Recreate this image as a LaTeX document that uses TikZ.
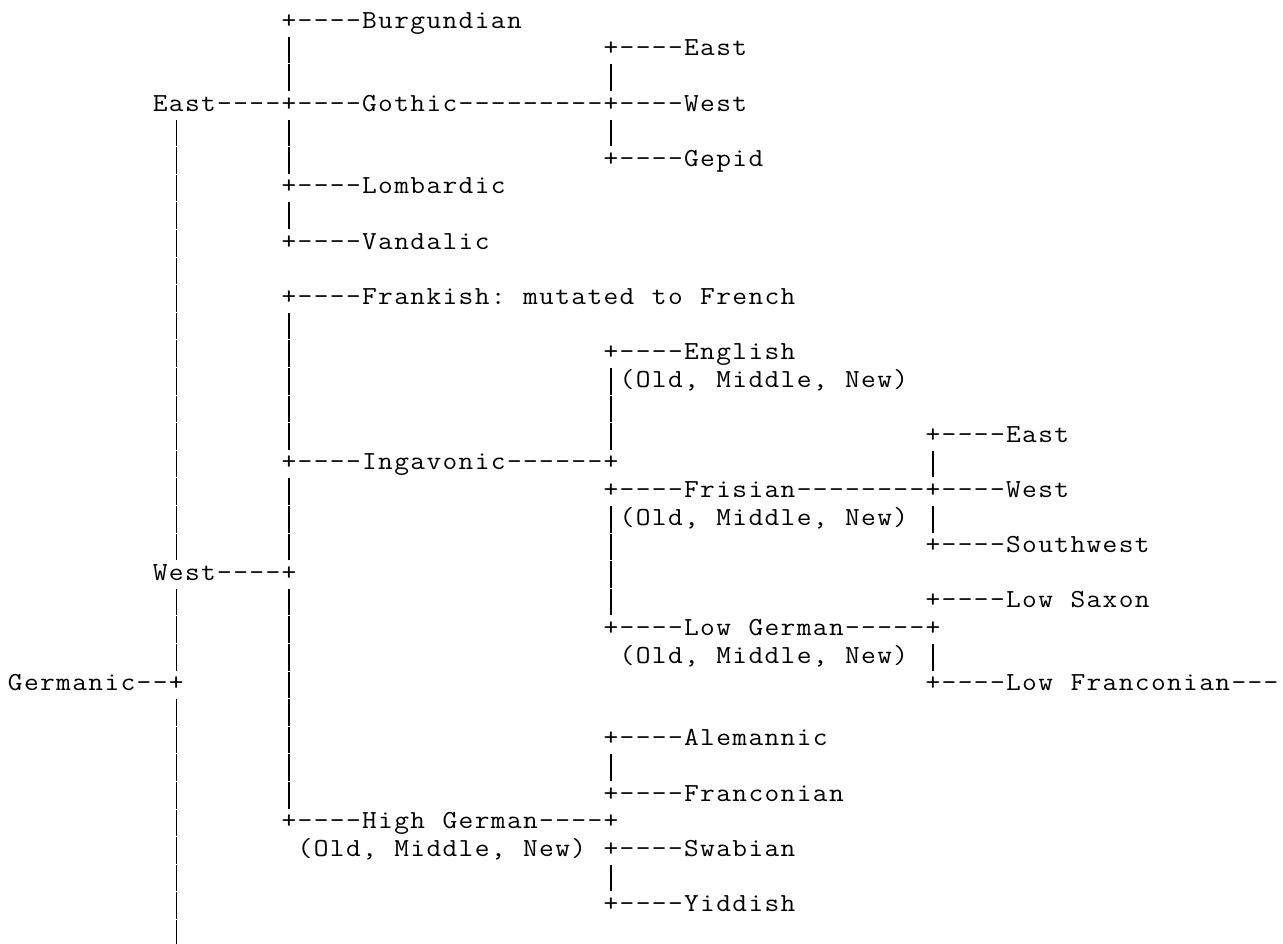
\documentclass[tikz,border=0pt]{standalone}
\usepackage{graphicx}
\newlength\cw
\setlength\cw{16.1pt}
\makeatletter
\def\grid@end{grid-end-marker}
\newcommand\gridtext[1]{\grid@a#1\grid@end}
\def\grid@a#1{\ifx#1\grid@end\else\grid@cell#1\expandafter\grid@a\fi}
\def\grid@cell#1{\ifx#1|\gridbar\else\ifx#1~\hbox to\cw{}\else\hbox to\cw{\hss\scalebox{1.1}[1]{#1}\hss}\fi\fi}
\newcommand\gridbar{\hbox to\cw{\hss\rule[-7.4pt]{1.1pt}{26.6pt}\hss}}
\makeatother
\newcommand\seg[4]{\node[seg] (#1) at (#2,#3) {\gridtext{#4}};}
\begin{document}
\begin{tikzpicture}[seg/.style={anchor=base west, inner sep=0pt, outer sep=0pt, font=\ttfamily\fontsize{26pt}{27.6pt}\selectfont}]
\fill[white] (0,0) rectangle (1283pt,-943pt);
\useasboundingbox (0,0) rectangle (1283pt,-943pt);
\begin{scope}[x=16.1pt, y=-27.6pt, shift={(7.25pt,-28.3pt)}]
% row 0
\seg{burgundian}{17}{0}{+----Burgundian}
% row 1
\seg{b1b}{17}{1}{|}
\seg{eastG}{37}{1}{+----East}
% row 2
\seg{b2b}{17}{2}{|}
\seg{b2c}{37}{2}{|}
% row 3
\seg{east}{9}{3}{East----+----Gothic---------+----West}
% row 4
\seg{b4a}{10}{4}{|}
\seg{b4b}{17}{4}{|}
\seg{b4c}{37}{4}{|}
% row 5
\seg{b5a}{10}{5}{|}
\seg{b5b}{17}{5}{|}
\seg{gepid}{37}{5}{+----Gepid}
% row 6
\seg{b6a}{10}{6}{|}
\seg{lombardic}{17}{6}{+----Lombardic}
% row 7
\seg{b7a}{10}{7}{|}
\seg{b7b}{17}{7}{|}
% row 8
\seg{b8a}{10}{8}{|}
\seg{vandalic}{17}{8}{+----Vandalic}
% row 9
\seg{b9a}{10}{9}{|}
% row 10
\seg{b10a}{10}{10}{|}
\seg{frankish}{17}{10}{+----Frankish:~mutated~to~French}
% row 11
\seg{b11a}{10}{11}{|}
\seg{b11b}{17}{11}{|}
% row 12
\seg{b12a}{10}{12}{|}
\seg{b12b}{17}{12}{|}
\seg{english}{37}{12}{+----English}
% row 13
\seg{b13a}{10}{13}{|}
\seg{b13b}{17}{13}{|}
\seg{englishOMN}{37}{13}{|(Old,~Middle,~New)}
% row 14
\seg{b14a}{10}{14}{|}
\seg{b14b}{17}{14}{|}
\seg{b14c}{37}{14}{|}
% row 15
\seg{b15a}{10}{15}{|}
\seg{b15b}{17}{15}{|}
\seg{b15c}{37}{15}{|}
\seg{eastF}{57}{15}{+----East}
% row 16
\seg{b16a}{10}{16}{|}
\seg{ingavonic}{17}{16}{+----Ingavonic------+}
\seg{b16d}{57}{16}{|}
% row 17
\seg{b17a}{10}{17}{|}
\seg{b17b}{17}{17}{|}
\seg{frisian}{37}{17}{+----Frisian--------+----West}
% row 18
\seg{b18a}{10}{18}{|}
\seg{b18b}{17}{18}{|}
\seg{frisianOMN}{37}{18}{|(Old,~Middle,~New)~|}
% row 19
\seg{b19a}{10}{19}{|}
\seg{b19b}{17}{19}{|}
\seg{b19c}{37}{19}{|}
\seg{southwest}{57}{19}{+----Southwest}
% row 20
\seg{west}{9}{20}{West----+}
\seg{b20c}{37}{20}{|}
% row 21
\seg{b21a}{10}{21}{|}
\seg{b21b}{17}{21}{|}
\seg{b21c}{37}{21}{|}
\seg{lowsaxon}{57}{21}{+----Low~Saxon}
% row 22
\seg{b22a}{10}{22}{|}
\seg{b22b}{17}{22}{|}
\seg{lowgerman}{37}{22}{+----Low~German-----+}
% row 23
\seg{b23a}{10}{23}{|}
\seg{b23b}{17}{23}{|}
\seg{lowgermanOMN}{38}{23}{(Old,~Middle,~New)~|}
% row 24
\seg{germanic}{0}{24}{Germanic--+}
\seg{b24b}{17}{24}{|}
\seg{lowfranconian}{57}{24}{+----Low~Franconian---}
% row 25
\seg{b25a}{10}{25}{|}
\seg{b25b}{17}{25}{|}
% row 26
\seg{b26a}{10}{26}{|}
\seg{b26b}{17}{26}{|}
\seg{alemannic}{37}{26}{+----Alemannic}
% row 27
\seg{b27a}{10}{27}{|}
\seg{b27b}{17}{27}{|}
\seg{b27c}{37}{27}{|}
% row 28
\seg{b28a}{10}{28}{|}
\seg{b28b}{17}{28}{|}
\seg{franconian}{37}{28}{+----Franconian}
% row 29
\seg{b29a}{10}{29}{|}
\seg{highgerman}{17}{29}{+----High~German----+}
% row 30
\seg{b30a}{10}{30}{|}
\seg{swabian}{18}{30}{(Old,~Middle,~New)~+----Swabian}
% row 31
\seg{b31a}{10}{31}{|}
\seg{b31c}{37}{31}{|}
% row 32
\seg{b32a}{10}{32}{|}
\seg{yiddish}{37}{32}{+----Yiddish}
% row 33
\seg{b33a}{10}{33}{|}
\end{scope}
\end{tikzpicture}
\end{document}
